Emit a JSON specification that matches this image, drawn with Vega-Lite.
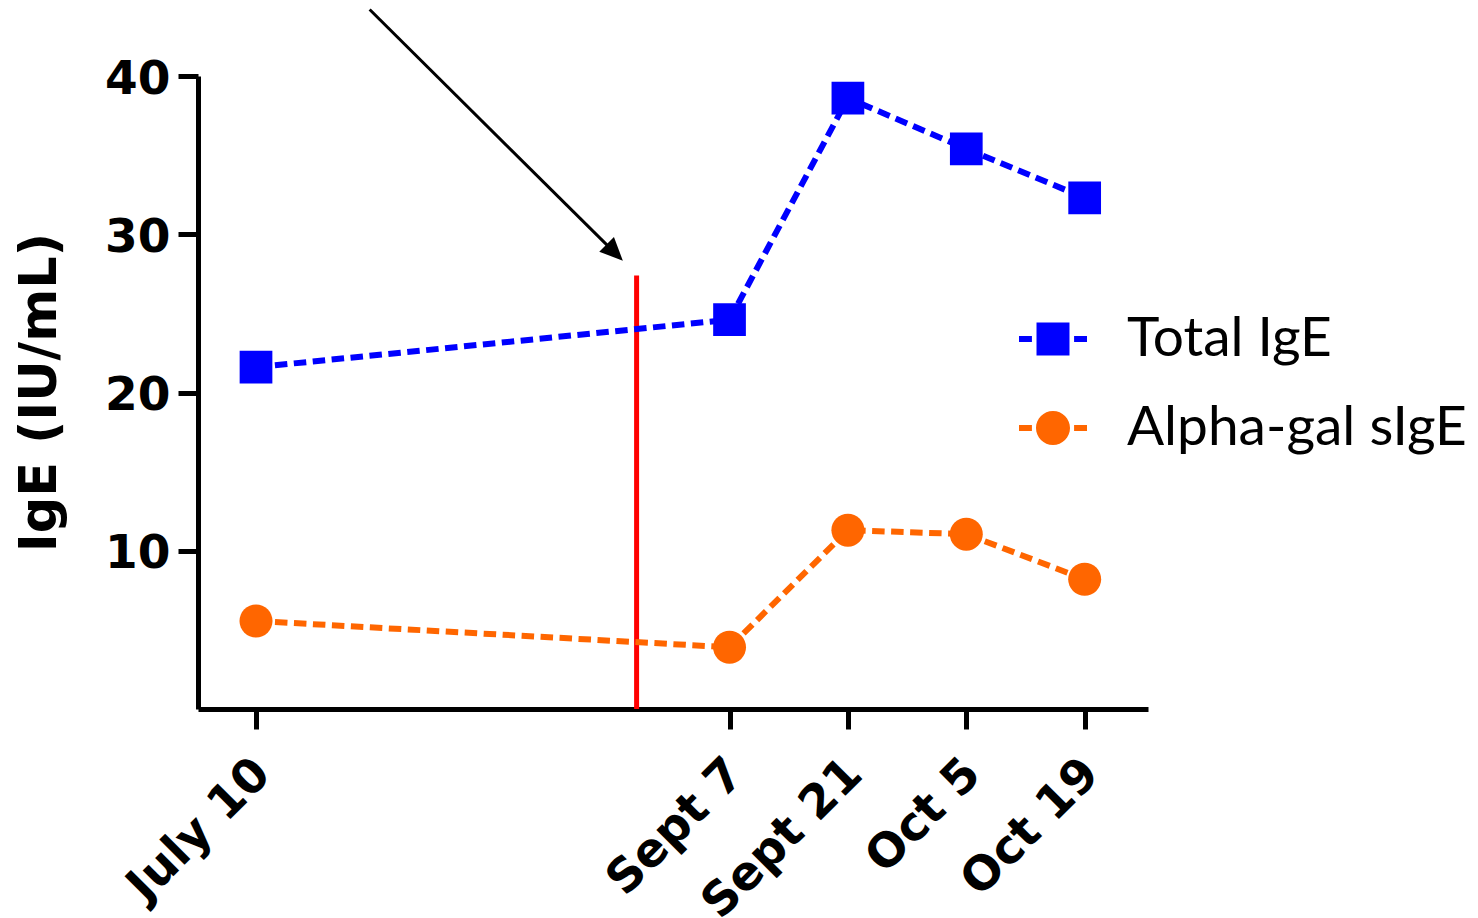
{
  "$schema": "https://vega.github.io/schema/vega-lite/v6.json",
  "autosize": {"type": "none"},
  "padding": {"left": 198, "top": 76, "right": 330, "bottom": 209},
  "width": 950,
  "height": 633,
  "background": "white",
  "config": {
    "view": {"stroke": null},
    "axis": {"grid": false, "domainColor": "black", "domainWidth": 5, "tickColor": "black", "tickWidth": 5, "tickSize": 20, "labelColor": "black", "labelFont": "DejaVu Sans", "labelFontWeight": "bold", "labelFontSize": 47, "titleFont": "DejaVu Sans", "titleFontWeight": "bold", "titleColor": "black", "labelOverlap": false, "labelBound": false, "labelFlush": false, "labelLimit": 0},
    "legend": {"title": null, "orient": "none", "legendX": 821, "legendY": 229, "padding": 0, "symbolSize": 4624, "labelFont": "Lato", "labelFontSize": 55, "labelColor": "black", "labelOffset": 40, "rowPadding": 27, "symbolStrokeWidth": 0, "symbolOpacity": 1, "labelLimit": 0}
  },
  "datasets": {
    "series": [
      {"week": 0, "series": "Total IgE", "value": 21.6},
      {"week": 8, "series": "Total IgE", "value": 24.6},
      {"week": 10, "series": "Total IgE", "value": 38.6},
      {"week": 12, "series": "Total IgE", "value": 35.4},
      {"week": 14, "series": "Total IgE", "value": 32.3},
      {"week": 0, "series": "Alpha-gal sIgE", "value": 5.56},
      {"week": 8, "series": "Alpha-gal sIgE", "value": 3.9},
      {"week": 10, "series": "Alpha-gal sIgE", "value": 11.3},
      {"week": 12, "series": "Alpha-gal sIgE", "value": 11.05},
      {"week": 14, "series": "Alpha-gal sIgE", "value": 8.2}
    ],
    "marker": [{"week": 6.43, "bottom": 0, "top": 27.4}],
    "arrow": [{"x": 1.92, "y": 44.2, "x2": 6.0, "y2": 29.06, "tipx": 6.198, "tipy": 28.33}]
  },
  "layer": [
    {
      "data": {"name": "marker"},
      "mark": {"type": "rule", "color": "#ff0000", "strokeWidth": 5},
      "encoding": {
        "x": {"field": "week", "type": "quantitative", "scale": {"domain": [-0.98, 15.07], "nice": false, "zero": false},
          "axis": {"values": [0, 8, 10, 12, 14], "labelAngle": -45, "labelAlign": "right", "labelBaseline": "top", "labelPadding": 21, "labelOffset": -10, "title": null,
            "labelExpr": "datum.value == 0 ? 'July 10' : datum.value == 8 ? 'Sept 7' : datum.value == 10 ? 'Sept 21' : datum.value == 12 ? 'Oct 5' : 'Oct 19'"}},
        "y": {"field": "bottom", "type": "quantitative", "scale": {"domain": [0, 40], "nice": false},
          "axis": {"values": [10, 20, 30, 40], "labelPadding": 8, "labelOffset": 3, "title": "IgE (IU/mL)", "titleFontSize": 51, "titleAngle": -90, "titleBaseline": "alphabetic", "titleAlign": "center", "titleX": -143, "titleY": 316}},
        "y2": {"field": "top"}
      }
    },
    {
      "data": {"name": "arrow"},
      "mark": {"type": "rule", "color": "black", "strokeWidth": 3},
      "encoding": {
        "x": {"field": "x", "type": "quantitative"},
        "y": {"field": "y", "type": "quantitative"},
        "x2": {"field": "x2"},
        "y2": {"field": "y2"}
      }
    },
    {
      "data": {"name": "arrow"},
      "mark": {"type": "point", "filled": true, "color": "black", "size": 2116, "angle": 45, "opacity": 1, "strokeWidth": 0,
        "shape": "M0,0L-1,-0.45L-1,0.45Z"},
      "encoding": {
        "x": {"field": "tipx", "type": "quantitative"},
        "y": {"field": "tipy", "type": "quantitative"}
      }
    },
    {
      "data": {"name": "series"},
      "transform": [{"filter": "datum.series === 'Total IgE'"}],
      "mark": {"type": "line", "strokeWidth": 6, "strokeDash": [12.5, 6.5], "color": "#0000ff"},
      "encoding": {
        "x": {"field": "week", "type": "quantitative"},
        "y": {"field": "value", "type": "quantitative"}
      }
    },
    {
      "data": {"name": "series"},
      "transform": [{"filter": "datum.series === 'Alpha-gal sIgE'"}],
      "mark": {"type": "line", "strokeWidth": 6, "strokeDash": [12.5, 6.5], "color": "#ff6600"},
      "encoding": {
        "x": {"field": "week", "type": "quantitative"},
        "y": {"field": "value", "type": "quantitative"}
      }
    },
    {
      "data": {"name": "series"},
      "transform": [{"filter": "datum.series === 'Total IgE'"}],
      "mark": {"type": "point", "filled": true, "shape": "square", "size": 1070, "opacity": 1, "strokeWidth": 0, "color": "#0000ff"},
      "encoding": {
        "x": {"field": "week", "type": "quantitative"},
        "y": {"field": "value", "type": "quantitative"}
      }
    },
    {
      "data": {"name": "series"},
      "transform": [{"filter": "datum.series === 'Alpha-gal sIgE'"}],
      "mark": {"type": "point", "filled": true, "shape": "circle", "size": 1090, "opacity": 1, "strokeWidth": 0, "color": "#ff6600"},
      "encoding": {
        "x": {"field": "week", "type": "quantitative"},
        "y": {"field": "value", "type": "quantitative"}
      }
    },
    {
      "data": {"name": "series"},
      "transform": [{"filter": "datum.value < 0"}],
      "mark": {"type": "point", "filled": true, "opacity": 1, "strokeWidth": 0},
      "encoding": {
        "x": {"field": "week", "type": "quantitative"},
        "y": {"field": "value", "type": "quantitative"},
        "color": {"field": "series", "type": "nominal", "scale": {"domain": ["Total IgE", "Alpha-gal sIgE"], "range": ["#0000ff", "#ff6600"]}},
        "shape": {"field": "series", "type": "nominal", "scale": {"domain": ["Total IgE", "Alpha-gal sIgE"], "range": [
          "M-1,-0.09L-0.62,-0.09L-0.62,0.09L-1,0.09Z M-0.485,-0.485L0.485,-0.485L0.485,0.485L-0.485,0.485Z M0.62,-0.09L1,-0.09L1,0.09L0.62,0.09Z",
          "M-1,-0.09L-0.62,-0.09L-0.62,0.09L-1,0.09Z M-0.5,0A0.5,0.5 0 1,0 0.5,0A0.5,0.5 0 1,0 -0.5,0Z M0.62,-0.09L1,-0.09L1,0.09L0.62,0.09Z"
        ]}}
      }
    }
  ]
}
